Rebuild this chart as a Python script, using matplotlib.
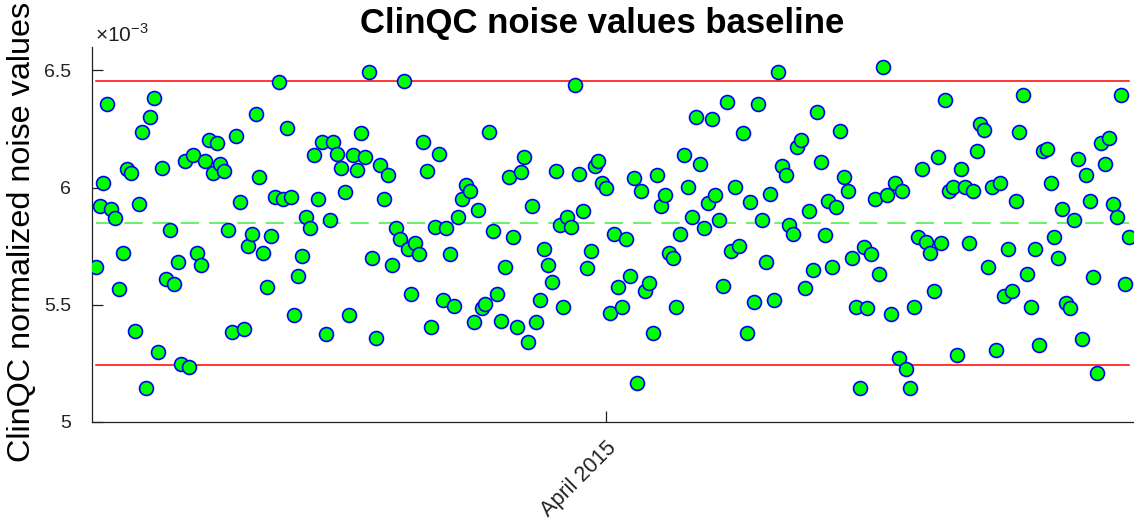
import matplotlib
matplotlib.use("Agg")
import matplotlib.pyplot as plt
import matplotlib.dates as mdates
import pandas as pd

plt.rcParams['font.family'] = ['Liberation Sans', 'DejaVu Sans']
plt.rcParams['mathtext.fontset'] = 'custom'
plt.rcParams['mathtext.rm'] = 'Liberation Sans'

# daily noise values, in units of 1e-3
START_DATE = "2014-11-21"
NOISE = [
    5.662, 5.922, 6.018, 6.358, 5.907, 5.869, 5.566, 5.721, 6.078, 6.063,
    5.387, 5.929, 6.239, 5.144, 6.299, 6.382, 5.299, 6.084, 5.610, 5.818,
    5.588, 5.684, 5.246, 6.113, 5.235, 6.137, 5.721, 5.670, 6.114, 6.202,
    6.063, 6.189, 6.101, 6.070, 5.818, 5.382, 6.218, 5.937, 5.396, 5.751,
    5.802, 6.313, 6.047, 5.722, 5.574, 5.795, 5.959, 6.449, 5.950, 6.255,
    5.959, 5.454, 5.624, 5.707, 5.876, 5.825, 6.137, 5.952, 6.195, 5.373,
    5.862, 6.195, 6.144, 6.084, 5.981, 5.456, 6.137, 6.075, 6.232, 6.130,
    6.493, 5.698, 5.359, 6.094, 5.952, 6.054, 5.670, 5.826, 5.781, 6.456,
    5.738, 5.544, 5.765, 5.714, 6.194, 6.070, 5.403, 5.833, 6.144, 5.521,
    5.826, 5.715, 5.493, 5.876, 5.950, 6.011, 5.983, 5.427, 5.902, 5.484,
    5.501, 6.239, 5.816, 5.544, 5.432, 5.662, 6.047, 5.788, 5.406, 6.068,
    6.130, 5.342, 5.922, 5.427, 5.520, 5.736, 5.670, 5.595, 6.070, 5.840,
    5.491, 5.876, 5.833, 6.439, 6.056, 5.900, 5.655, 5.729, 6.093, 6.114,
    6.020, 5.997, 5.463, 5.802, 5.574, 5.491, 5.781, 5.624, 6.040, 5.164,
    5.987, 5.556, 5.594, 5.380, 6.054, 5.919, 5.966, 5.722, 5.698, 5.491,
    5.802, 6.137, 6.003, 5.876, 6.301, 6.100, 5.826, 5.934, 6.292, 5.966,
    5.862, 5.581, 6.365, 5.729, 6.003, 5.751, 6.231, 5.380, 5.937, 5.513,
    6.358, 5.862, 5.684, 5.973, 5.520, 6.493, 6.093, 6.054, 5.840, 5.802,
    6.174, 6.204, 5.573, 5.900, 5.648, 6.322, 6.108, 5.796, 5.944, 5.662,
    5.915, 6.241, 6.047, 5.983, 5.698, 5.491, 5.142, 5.745, 5.484, 5.715,
    5.952, 5.631, 6.513, 5.966, 5.460, 6.018, 5.271, 5.987, 5.225, 5.142,
    5.491, 5.788, 6.077, 5.767, 5.719, 5.557, 6.130, 5.765, 6.373, 5.983,
    6.003, 5.285, 6.077, 6.003, 5.765, 5.983, 6.158, 6.271, 6.246, 5.662,
    6.001, 5.306, 6.018, 5.538, 5.736, 5.558, 5.944, 6.239, 6.396, 5.631,
    5.491, 5.736, 5.328, 6.158, 6.165, 6.018, 5.788, 5.699, 5.907, 5.506,
    5.484, 5.862, 6.121, 5.352, 6.054, 5.944, 5.617, 5.209, 6.189, 6.100,
    6.211, 5.929, 5.876, 6.396, 5.588, 5.788,
]
BASELINE_MEAN = 5.848
UPPER_LIMIT = 6.453
LOWER_LIMIT = 5.242
Y_TICKS = [5, 5.5, 6, 6.5]
Y_TICK_LABELS = ["5", "5.5", "6", "6.5"]
TICK_DATE = "2015-04-01"
TICK_LABEL = "April 2015"

dates = pd.date_range(START_DATE, periods=len(NOISE), freq="D")

W, H = 1134, 527
fig = plt.figure(figsize=(W / 100, H / 100), dpi=100)
ax = fig.add_axes([92 / W, (H - 421.7) / H, (W - 92) / W, (421.7 - 47) / H])

span = [dates[0], dates[-1]]
ax.plot(span, [UPPER_LIMIT] * 2, color='red', lw=1.1, zorder=1)
ax.plot(span, [LOWER_LIMIT] * 2, color='red', lw=1.1, zorder=1)
ax.plot(span, [BASELINE_MEAN] * 2, color=(0.25, 0.93, 0.25), lw=1.1,
        linestyle=(0, (12, 6.5)), zorder=1)

ax.scatter(dates, NOISE, s=100, facecolor=(0, 1, 0), edgecolor=(0, 0, 1),
           linewidth=1.2, zorder=3)

x0 = mdates.date2num(dates[0])
ax.set_xlim(x0 - 0.95, x0 + 266.4)
ax.set_ylim(5, 6.6)

ax.set_yticks(Y_TICKS)
ax.set_yticklabels(Y_TICK_LABELS)
ax.set_xticks([mdates.date2num(pd.Timestamp(TICK_DATE))])
ax.set_xticklabels([TICK_LABEL], rotation=45, ha='right', va='top',
                   rotation_mode='anchor')

for side in ['top', 'right']:
    ax.spines[side].set_visible(False)
for side in ['left', 'bottom']:
    ax.spines[side].set_linewidth(0.9)
    ax.spines[side].set_color('#222222')

ax.tick_params(direction='in', length=8, width=0.9, colors='#222222')
ax.tick_params(axis='y', pad=15, labelsize=14)
ax.tick_params(axis='x', pad=11, labelsize=15.5)

fig.text(95 / W, 1 - 42 / H, '×10$^{-3}$', fontsize=15, ha='left',
         va='baseline', color='#222222')
fig.text(602.5 / W, 1 - 33 / H, 'ClinQC noise values baseline',
         fontsize=25, fontweight='bold', ha='center', va='baseline')
fig.text(22 / W, 1 - 232 / H, 'ClinQC normalized noise values',
         fontsize=23.3, rotation=90, ha='center', va='center')

fig.savefig('out.png', dpi=100)
